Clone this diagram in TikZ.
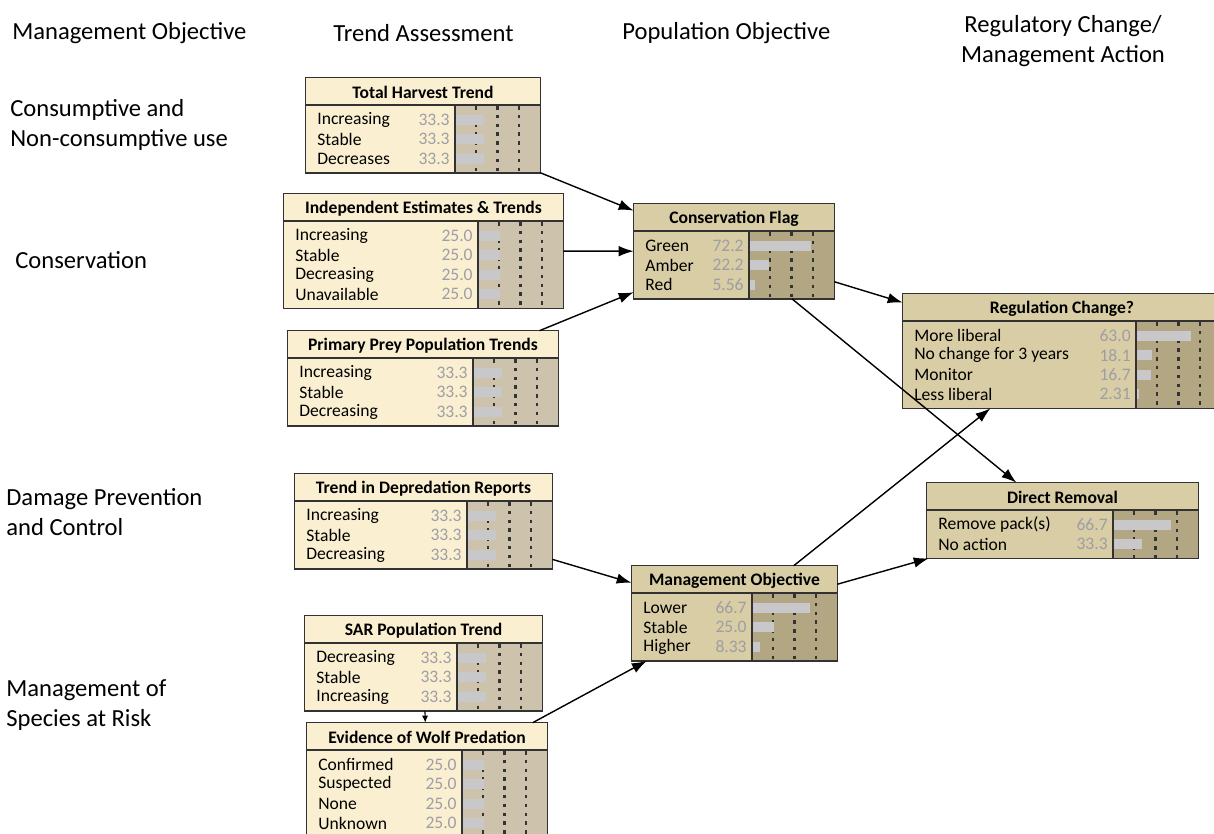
\documentclass[tikz,border=0pt]{standalone}
\usepackage{fontspec}
\setmainfont{Carlito}
\usetikzlibrary{arrows.meta,fit}

\definecolor{creambg}{RGB}{250,239,208}
\definecolor{creambar}{RGB}{205,195,172}
\definecolor{tanbg}{RGB}{216,205,164}
\definecolor{tanbar}{RGB}{178,167,130}
\definecolor{barfill}{RGB}{200,200,202}
\definecolor{valgray}{RGB}{158,158,166}
\definecolor{boxline}{RGB}{50,50,50}

\newcommand{\bnnode}[8]{%
  \pgfmathsetmacro{\bnbot}{#4+36+19.5*#6}
  \node[fit={(#3,#4) (#5,\bnbot)}, inner sep=0, fill=#2bg] (#1) {};
  \fill[#2bar] (#5-85,#4+27) rectangle (#5,\bnbot);
  \foreach \k in {1,2,3}
    \draw[tick] ({#5-85+21.25*\k},#4+28) -- ({#5-85+21.25*\k},\bnbot);
  \foreach \lab/\val [count=\i] in {#8} {
    \pgfmathsetmacro{\rowy}{#4+32+19.5*(\i-0.5)}
    \fill[barfill] (#5-84,\rowy-5) rectangle ({#5-84+0.85*\val},\rowy+5);
    \node[rowtext, anchor=west] at (#3+11,\rowy) {\lab};
    \node[rowtext, valgray, anchor=east] at (#5-90,\rowy) {\val};
  }
  \draw[frame] (#5-85,\bnbot) -- (#5-85,#4+27);
  \draw[frame] (#3,#4+27) -- (#5,#4+27);
  \draw[frame] (#1.north west) rectangle (#1.south east);
  \node[titletext] at ({(#3+#5)/2},#4+14.5) {#7};
}

\begin{document}
\begin{tikzpicture}[x=0.02cm, y=-0.02cm,
    rowtext/.style={inner sep=0, font=\fontsize{10}{12}\selectfont},
    titletext/.style={inner sep=0, font=\fontsize{10}{12}\selectfont\bfseries},
    heading/.style={inner sep=0, anchor=west, align=left, font=\fontsize{14}{17.5}\selectfont},
    tick/.style={black!80, line width=1.2pt, dash pattern=on 2pt off 3pt},
    frame/.style={boxline, line width=0.9pt},
    link/.style={-{Latex[length=8.5pt,width=6pt]}, line width=0.8pt}]
    \useasboundingbox (0,0) rectangle (1214,833);

    \node[heading] (hMgmt) at (12,33) {Management Objective};
    \node[heading] (hTrend) at (333,33) {Trend Assessment};
    \node[heading] (hPop) at (622,33) {Population Objective};
    \node[heading, anchor=center, align=center] (hReg) at (1063,41) {Regulatory Change/\\Management Action};
    \node[heading] (hUse) at (10,125) {Consumptive and\\Non-consumptive use};
    \node[heading] (hCons) at (15,260) {Conservation};
    \node[heading] (hDamage) at (6,512) {Damage Prevention\\and Control};
    \node[heading] (hSAR) at (6,705) {Management of\\Species at Risk};

    \bnnode{TotalHarvest}{cream}{306}{78}{540}{3}{Total Harvest Trend}{Increasing/33.3, Stable/33.3, Decreases/33.3}
    \bnnode{IndepEstimates}{cream}{284}{194}{563}{4}{Independent Estimates \& Trends}{Increasing/25.0, Stable/25.0, Decreasing/25.0, Unavailable/25.0}
    \bnnode{PreyTrends}{cream}{288}{331}{558}{3}{Primary Prey Population Trends}{Increasing/33.3, Stable/33.3, Decreasing/33.3}
    \bnnode{DeprReports}{cream}{295}{474}{552}{3}{Trend in Depredation Reports}{Increasing/33.3, Stable/33.3, Decreasing/33.3}
    \bnnode{SARTrend}{cream}{305}{616}{542}{3}{SAR Population Trend}{Decreasing/33.3, Stable/33.3, Increasing/33.3}
    \bnnode{WolfPredation}{cream}{307}{723}{547}{4}{Evidence of Wolf Predation}{Confirmed/25.0, Suspected/25.0, None/25.0, Unknown/25.0}
    \bnnode{ConsFlag}{tan}{634}{204}{834}{3}{Conservation Flag}{Green/72.2, Amber/22.2, Red/5.56}
    \bnnode{MgmtObjective}{tan}{632}{566}{837}{3}{Management Objective}{Lower/66.7, Stable/25.0, Higher/8.33}
    \bnnode{RegChange}{tan}{903}{294}{1221}{4}{Regulation Change?}{More liberal/63.0, No change for 3 years/18.1, Monitor/16.7, Less liberal/2.31}
    \bnnode{DirectRemoval}{tan}{927}{483}{1198}{2}{Direct Removal}{Remove pack(s)/66.7, No action/33.3}

    \draw[link] (TotalHarvest) -- (ConsFlag);
    \draw[link] (IndepEstimates) -- (ConsFlag);
    \draw[link] (PreyTrends) -- (ConsFlag);
    \draw[link] (ConsFlag) -- (RegChange);
    \draw[link] (ConsFlag) -- (DirectRemoval);
    \draw[link] (DeprReports) -- (MgmtObjective);
    \draw[link] (WolfPredation) -- (MgmtObjective);
    \draw[link] (MgmtObjective) -- (RegChange);
    \draw[link] (MgmtObjective) -- (DirectRemoval);
    \draw[-{Latex[length=4pt,width=3.5pt]}, line width=0.6pt] (SARTrend) -- (WolfPredation);
\end{tikzpicture}
\end{document}
